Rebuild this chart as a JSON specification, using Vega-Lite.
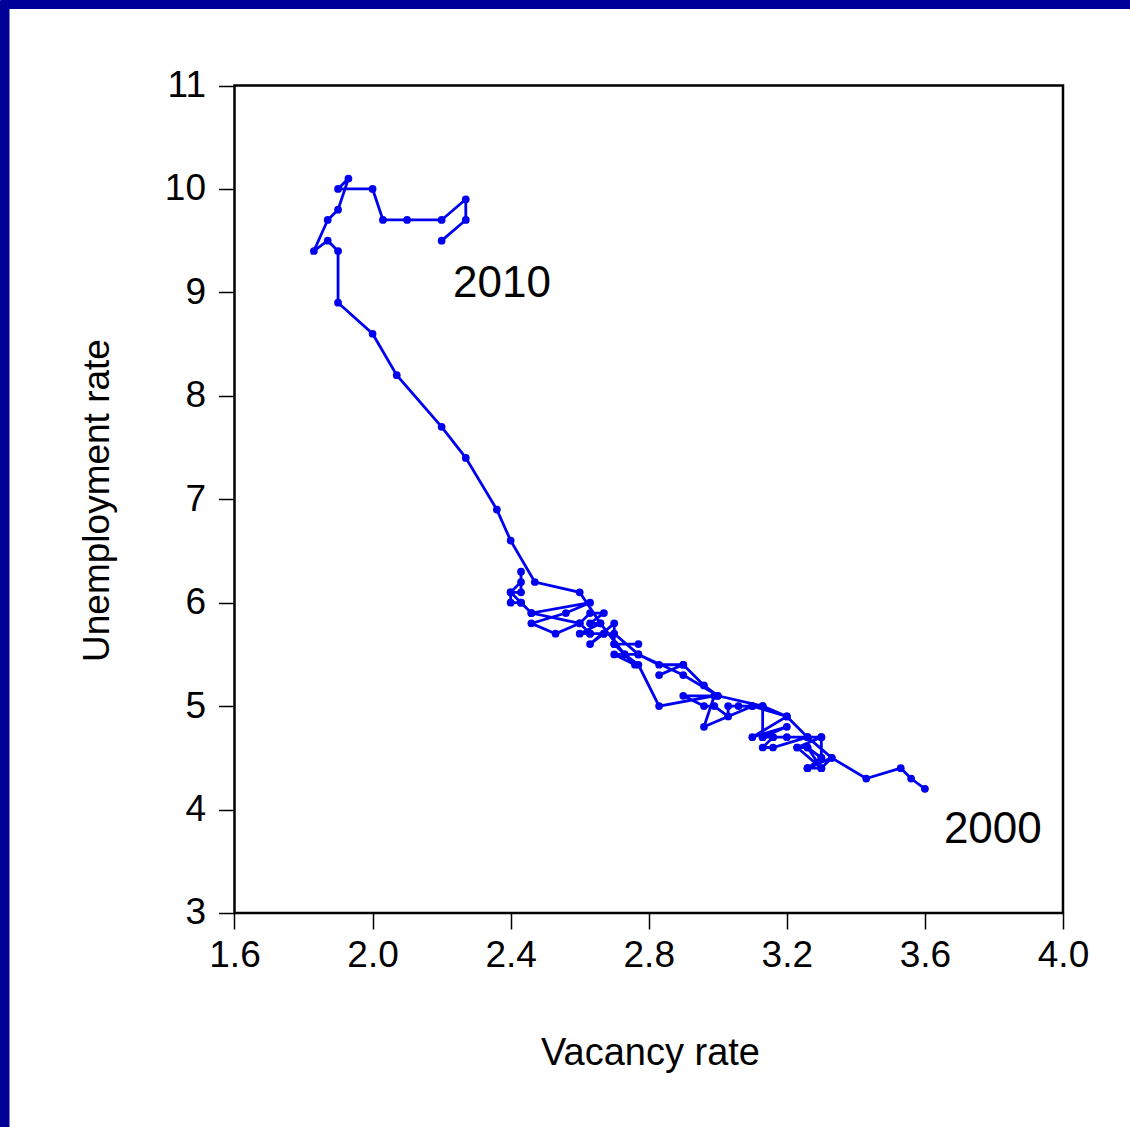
{
  "$schema": "https://vega.github.io/schema/vega-lite/v6.json",
  "autosize": "none",
  "width": 1130,
  "height": 1127,
  "padding": 0,
  "background": "white",
  "view": {"fill": null, "stroke": null},
  "config": {
    "font": "Liberation Sans",
    "axis": {"grid": false, "domain": false, "tickColor": "black", "tickWidth": 1.5, "tickSize": 16, "labelColor": "black", "labelFontSize": 37, "labelFont": "Liberation Sans", "titleColor": "black", "titleFontSize": 37, "titleFontWeight": "normal", "titleFont": "Liberation Sans", "labelPadding": 8}
  },
  "resolve": {"axis": {"x": "independent", "y": "independent"}},
  "datasets": {
    "path": [
      {"t":1,"v":3.60,"u":4.2},{"t":2,"v":3.56,"u":4.3},{"t":3,"v":3.53,"u":4.4},{"t":4,"v":3.43,"u":4.3},{"t":5,"v":3.33,"u":4.5},{"t":6,"v":3.26,"u":4.7},{"t":7,"v":3.20,"u":4.9},{"t":8,"v":3.13,"u":5.0},{"t":9,"v":3.00,"u":5.1},{"t":10,"v":2.90,"u":5.3},{"t":11,"v":2.77,"u":5.5},{"t":12,"v":2.70,"u":5.7},
      {"t":13,"v":2.67,"u":5.7},{"t":14,"v":2.63,"u":5.7},{"t":15,"v":2.60,"u":5.7},{"t":16,"v":2.66,"u":5.8},{"t":17,"v":2.63,"u":5.8},{"t":18,"v":2.67,"u":5.9},{"t":19,"v":2.63,"u":5.9},{"t":20,"v":2.60,"u":5.8},{"t":21,"v":2.53,"u":5.7},{"t":22,"v":2.46,"u":5.8},{"t":23,"v":2.56,"u":5.9},{"t":24,"v":2.63,"u":6.0},
      {"t":25,"v":2.46,"u":5.9},{"t":26,"v":2.43,"u":6.0},{"t":27,"v":2.40,"u":6.0},{"t":28,"v":2.40,"u":6.1},{"t":29,"v":2.43,"u":6.1},{"t":30,"v":2.43,"u":6.3},{"t":31,"v":2.43,"u":6.2},{"t":32,"v":2.40,"u":6.1},{"t":33,"v":2.43,"u":6.0},{"t":34,"v":2.46,"u":5.9},{"t":35,"v":2.60,"u":5.8},{"t":36,"v":2.63,"u":5.7},
      {"t":37,"v":2.67,"u":5.7},{"t":38,"v":2.63,"u":5.6},{"t":39,"v":2.70,"u":5.8},{"t":40,"v":2.70,"u":5.6},{"t":41,"v":2.77,"u":5.6},{"t":42,"v":2.70,"u":5.6},{"t":43,"v":2.73,"u":5.5},{"t":44,"v":2.76,"u":5.4},{"t":45,"v":2.70,"u":5.5},{"t":46,"v":2.77,"u":5.5},{"t":47,"v":2.83,"u":5.4},{"t":48,"v":2.90,"u":5.4},
      {"t":49,"v":2.83,"u":5.3},{"t":50,"v":2.90,"u":5.4},{"t":51,"v":2.96,"u":5.2},{"t":52,"v":3.00,"u":5.1},{"t":53,"v":2.90,"u":5.1},{"t":54,"v":2.96,"u":5.0},{"t":55,"v":2.99,"u":5.0},{"t":56,"v":3.03,"u":4.9},{"t":57,"v":3.03,"u":5.0},{"t":58,"v":3.06,"u":5.0},{"t":59,"v":3.10,"u":5.0},{"t":60,"v":3.20,"u":4.9},
      {"t":61,"v":3.10,"u":4.7},{"t":62,"v":3.20,"u":4.8},{"t":63,"v":3.13,"u":4.7},{"t":64,"v":3.16,"u":4.7},{"t":65,"v":3.13,"u":4.6},{"t":66,"v":3.16,"u":4.6},{"t":67,"v":3.26,"u":4.7},{"t":68,"v":3.30,"u":4.7},{"t":69,"v":3.30,"u":4.5},{"t":70,"v":3.26,"u":4.4},{"t":71,"v":3.33,"u":4.5},{"t":72,"v":3.30,"u":4.4},
      {"t":73,"v":3.23,"u":4.6},{"t":74,"v":3.26,"u":4.6},{"t":75,"v":3.30,"u":4.4},{"t":76,"v":3.26,"u":4.4},{"t":77,"v":3.30,"u":4.5},{"t":78,"v":3.26,"u":4.6},{"t":79,"v":3.23,"u":4.6},{"t":80,"v":3.30,"u":4.7},{"t":81,"v":3.16,"u":4.7},{"t":82,"v":3.20,"u":4.7},{"t":83,"v":3.13,"u":4.7},{"t":84,"v":3.13,"u":5.0},
      {"t":85,"v":3.10,"u":5.0},{"t":86,"v":2.96,"u":4.8},{"t":87,"v":2.99,"u":5.1},{"t":88,"v":2.83,"u":5.0},{"t":89,"v":2.77,"u":5.4},{"t":90,"v":2.73,"u":5.5},{"t":91,"v":2.66,"u":5.8},{"t":92,"v":2.60,"u":6.1},{"t":93,"v":2.47,"u":6.2},{"t":94,"v":2.40,"u":6.6},{"t":95,"v":2.36,"u":6.9},{"t":96,"v":2.27,"u":7.4},
      {"t":97,"v":2.20,"u":7.7},{"t":98,"v":2.07,"u":8.2},{"t":99,"v":2.00,"u":8.6},{"t":100,"v":1.90,"u":8.9},{"t":101,"v":1.90,"u":9.4},{"t":102,"v":1.87,"u":9.5},{"t":103,"v":1.83,"u":9.4},{"t":104,"v":1.87,"u":9.7},{"t":105,"v":1.90,"u":9.8},{"t":106,"v":1.93,"u":10.1},{"t":107,"v":1.90,"u":10.0},{"t":108,"v":2.00,"u":10.0},
      {"t":109,"v":2.03,"u":9.7},{"t":110,"v":2.10,"u":9.7},{"t":111,"v":2.20,"u":9.7},{"t":112,"v":2.27,"u":9.9},{"t":113,"v":2.27,"u":9.7},{"t":114,"v":2.20,"u":9.5}
    ],
    "labels": [
      {"label": "2010", "v": 2.233, "u": 8.955},
      {"label": "2000", "v": 3.655, "u": 3.677}
    ]
  },
  "layer": [
    {
      "data": {"values": [{}]},
      "mark": {"type": "rect", "fill": null, "stroke": "black", "strokeWidth": 2.5},
      "encoding": {
        "x": {"datum": 1.6, "type": "quantitative", "scale": {"domain": [0.9207, 4.1941], "nice": false, "zero": false},
              "axis": {"orient": "bottom", "offset": -214, "values": [1.6, 2.0, 2.4, 2.8, 3.2, 3.6, 4.0], "format": ".1f", "title": "Vacancy rate", "titleFontSize": 38, "titleX": 650, "titleY": 151, "titleBaseline": "alphabetic", "titleAlign": "center"}},
        "x2": {"datum": 4.0},
        "y": {"datum": 3, "type": "quantitative", "scale": {"domain": [0.9311, 11.8266], "nice": false, "zero": false},
              "axis": {"orient": "left", "offset": -234.5, "values": [3, 4, 5, 6, 7, 8, 9, 10, 11], "format": "d", "labelPadding": 13, "title": "Unemployment rate", "titleX": -126, "titleY": 500, "titleBaseline": "alphabetic", "titleAngle": 270, "titleAlign": "center"}},
        "y2": {"datum": 11}
      }
    },
    {
      "data": {"name": "path"},
      "mark": {"type": "line", "color": "#0000f0", "strokeWidth": 2.8, "point": {"filled": true, "size": 60, "color": "#0000f0"}},
      "encoding": {
        "x": {"field": "v", "type": "quantitative", "axis": null},
        "y": {"field": "u", "type": "quantitative", "axis": null},
        "order": {"field": "t", "type": "quantitative"}
      }
    },
    {
      "data": {"name": "labels"},
      "mark": {"type": "text", "align": "left", "baseline": "alphabetic", "fontSize": 44, "font": "Liberation Sans", "color": "black"},
      "encoding": {
        "x": {"field": "v", "type": "quantitative",
              "axis": {"orient": "top", "offset": -4, "domain": true, "domainColor": "#000099", "domainWidth": 9, "ticks": false, "labels": false, "title": null}},
        "y": {"field": "u", "type": "quantitative",
              "axis": {"orient": "right", "offset": -1126, "domain": true, "domainColor": "#000099", "domainWidth": 10, "ticks": false, "labels": false, "title": null}},
        "text": {"field": "label"}
      }
    }
  ]
}
